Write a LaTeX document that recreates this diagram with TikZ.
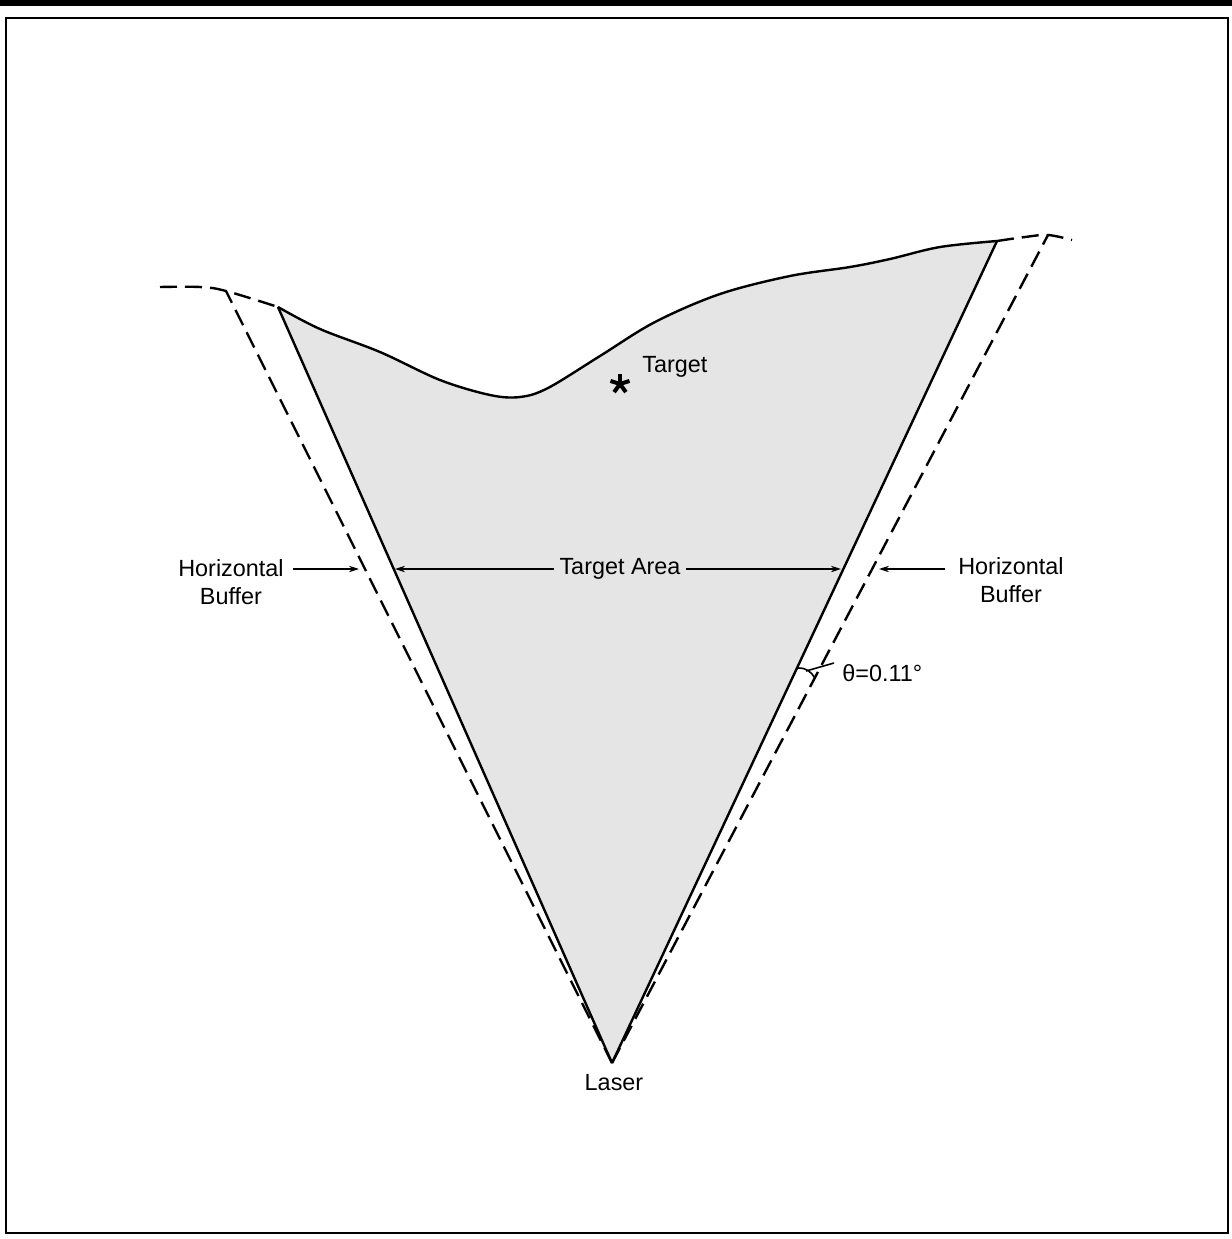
\documentclass[tikz,border=0pt]{standalone}
\usepackage{fontspec}
\setmainfont{Liberation Sans}
\usetikzlibrary{arrows.meta}
\begin{document}
\begin{tikzpicture}[x=0.5pt,y=-0.5pt,
  lbl/.style={font=\fontsize{11.7pt}{14pt}\selectfont, inner sep=0pt, align=center},
  edge/.style={line width=1.2pt},
  buf/.style={line width=1.2pt, dash pattern=on 8.5pt off 4pt},
  dim/.style={line width=0.6pt, -{Stealth[length=5pt,width=3.2pt]}},
  shade/.style={fill=black!10}]
\useasboundingbox (0,0) rectangle (1232,1239);
% frame
\fill (0,0) rectangle (1232,6);
\draw[line width=1pt] (6,18) rectangle (1228,1233);
% key points
\coordinate (apex) at (612,1063);
\coordinate (lt) at (278,307);
\coordinate (rt) at (997,241);
\coordinate (ldt) at (226,291);
\coordinate (rdt) at (1048,235);
% shaded target area
\fill[shade] (apex) -- (lt) -- plot[smooth, tension=0.55] coordinates {(278,307) (320,329) (380,352) (440,380) (490,395) (520,397) (548,388) (600,356) (655,322) (720,294) (790,276) (850,267) (890,259) (940,247) (997,241)} -- cycle;
% top boundary
\draw[edge] plot[smooth, tension=0.55] coordinates {(278,307) (320,329) (380,352) (440,380) (490,395) (520,397) (548,388) (600,356) (655,322) (720,294) (790,276) (850,267) (890,259) (940,247) (997,241)};
% solid edges
\draw[edge] (apex) -- (lt);
\draw[edge] (apex) -- (rt);
% dashed buffers
\draw[buf] (apex) -- (ldt);
\draw[buf] (apex) -- (rdt);
\draw[buf] plot[smooth, tension=0.6] coordinates {(160,287) (200,287) (226,291) (278,307)};
\draw[buf] plot[smooth, tension=0.6] coordinates {(997,241) (1025,237) (1048,235) (1072,240)};
% target star
\coordinate (star) at (620,384);
\foreach \a in {90,18,162,234,306}
  \draw[line width=2pt] (star) -- ++({10*cos(\a)},{-10*sin(\a)});
\node[lbl, anchor=west] (target) at (642,367) {Target};
% labels
\node[lbl] (hbl) at (231,582) {Horizontal\\Buffer};
\node[lbl] (hbr) at (1011,580) {Horizontal\\Buffer};
\node[lbl] (ta) at (620,569) {Target Area};
\node[lbl] (laser) at (614,1083) {Laser};
\node[lbl, anchor=west] (theta) at (842,673) {θ=0.11°};
% dimension arrows
\coordinate (hblA) at (293,569);
\coordinate (hblB) at (359,569);
\coordinate (taL) at (395,569);
\coordinate (taR) at (841,569);
\coordinate (hbrA) at (945,569);
\coordinate (hbrB) at (879,569);
\draw[dim] (hblA) -- (hblB);
\draw[dim] (ta.west) ++(-5,0) -- (taL);
\draw[dim] (ta.east) ++(5,0) -- (taR);
\draw[dim] (hbrA) -- (hbrB);
% angle arc
\coordinate (arcA) at (798,668);
\coordinate (arcB) at (815,679);
\draw[line width=0.8pt] (arcA) to[bend left=35] (arcB);
\coordinate (ld1) at (806,671);
\coordinate (ld2) at (834,663);
\draw[line width=0.8pt] (ld1) -- (ld2);
\end{tikzpicture}
\end{document}
